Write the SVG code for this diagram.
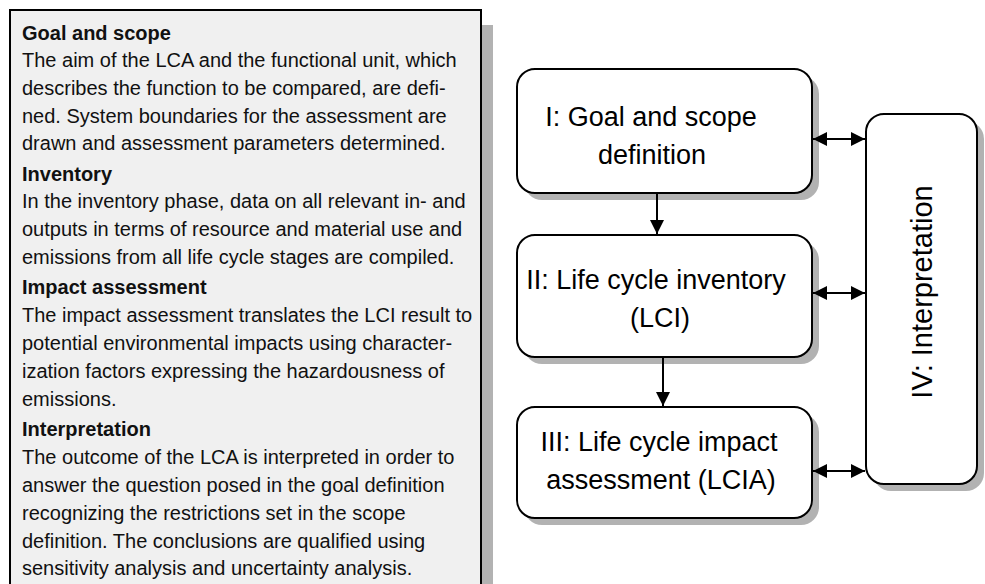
<svg xmlns="http://www.w3.org/2000/svg" width="985" height="584" viewBox="0 0 985 584">
<defs>
<style>
.body{font-family:"Liberation Sans",Arial,sans-serif;font-size:20px;fill:#111}
.head{font-family:"Liberation Sans",Arial,sans-serif;font-size:20px;font-weight:bold;fill:#111}
.node{fill:#fff;stroke:#000;stroke-width:2}
.shadow{fill:#b2b2b2}
.lbl{font-family:"Liberation Sans",Arial,sans-serif;font-size:27px;fill:#000;text-anchor:middle}
.conn{stroke:#000;stroke-width:2;fill:none}
</style>
<marker id="ah" viewBox="0 0 14 14" refX="14" refY="7" markerWidth="14" markerHeight="14" markerUnits="userSpaceOnUse" orient="auto-start-reverse">
<path d="M0,0 L14,7 L0,14 Z" fill="#000"/>
</marker>
</defs>
<rect width="985" height="584" fill="#fff"/>
<g id="text-panel">
<rect x="482" y="25" width="11" height="580" class="shadow"/>
<rect x="10" y="10" width="471" height="600" fill="#f0f0f0" stroke="#000" stroke-width="2"/>
<text class="head" x="22" y="40">Goal and scope</text>
<text class="body" x="22" y="67">The aim of the LCA and the functional unit, which</text>
<text class="body" x="22" y="95">describes the function to be compared, are defi-</text>
<text class="body" x="22" y="123">ned. System boundaries for the assessment are</text>
<text class="body" x="22" y="150">drawn and assessment parameters determined.</text>
<text class="head" x="22" y="181">Inventory</text>
<text class="body" x="22" y="208">In the inventory phase, data on all relevant in- and</text>
<text class="body" x="22" y="236">outputs in terms of resource and material use and</text>
<text class="body" x="22" y="264">emissions from all life cycle stages are compiled.</text>
<text class="head" x="22" y="294">Impact assessment</text>
<text class="body" x="22" y="322">The impact assessment translates the LCI result to</text>
<text class="body" x="22" y="350">potential environmental impacts using character-</text>
<text class="body" x="22" y="378">ization factors expressing the hazardousness of</text>
<text class="body" x="22" y="406">emissions.</text>
<text class="head" x="22" y="436">Interpretation</text>
<text class="body" x="22" y="464">The outcome of the LCA is interpreted in order to</text>
<text class="body" x="22" y="492">answer the question posed in the goal definition</text>
<text class="body" x="22" y="520">recognizing the restrictions set in the scope</text>
<text class="body" x="22" y="548">definition. The conclusions are qualified using</text>
<text class="body" x="22" y="575">sensitivity analysis and uncertainty analysis.</text>
</g>
<g id="node-goal">
<rect x="524" y="76" width="295" height="124" rx="18" class="shadow"/>
<rect x="517" y="69" width="295" height="124" rx="18" class="node"/>
<text class="lbl" x="651" y="126">I: Goal and scope</text>
<text class="lbl" x="652" y="164">definition</text>
</g>
<g id="node-lci">
<rect x="524" y="242" width="295" height="122" rx="18" class="shadow"/>
<rect x="517" y="235" width="295" height="122" rx="18" class="node"/>
<text class="lbl" x="656" y="289">II: Life cycle inventory</text>
<text class="lbl" x="660" y="327">(LCI)</text>
</g>
<g id="node-lcia">
<rect x="524" y="414" width="295" height="111" rx="18" class="shadow"/>
<rect x="517" y="407" width="295" height="111" rx="18" class="node"/>
<text class="lbl" x="659" y="451">III: Life cycle impact</text>
<text class="lbl" x="661" y="489">assessment (LCIA)</text>
</g>
<g id="node-interp">
<rect x="873" y="121" width="111" height="370" rx="18" class="shadow"/>
<rect x="866" y="114" width="111" height="370" rx="18" class="node"/>
<text class="lbl" style="font-size:29px" transform="translate(932,292) rotate(-90)">IV: Interpretation</text>
</g>
<g id="connectors">
<line x1="657" y1="193" x2="657" y2="234" class="conn" marker-end="url(#ah)"/>
<line x1="663" y1="357" x2="663" y2="406" class="conn" marker-end="url(#ah)"/>
<line x1="813" y1="139" x2="865" y2="139" class="conn" marker-start="url(#ah)" marker-end="url(#ah)"/>
<line x1="813" y1="293" x2="865" y2="293" class="conn" marker-start="url(#ah)" marker-end="url(#ah)"/>
<line x1="813" y1="471" x2="865" y2="471" class="conn" marker-start="url(#ah)" marker-end="url(#ah)"/>
</g>
</svg>
